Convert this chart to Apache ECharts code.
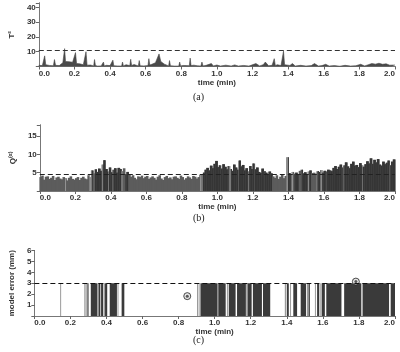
<!DOCTYPE html>
<html>
<head>
<meta charset="utf-8">
<script src="https://cdn.jsdelivr.net/npm/echarts@6/dist/echarts.min.js"></script>
<style>
  html, body { margin: 0; padding: 0; background: #fff; }
  #chart { width: 400px; height: 352px; }
</style>
</head>
<body>
<div id="chart"></div>
<script>
// (a) T^2 statistic: [time (min), value]
const t2Points = [
  [0,0.8],[0.01,1.5],[0.02,0.6],[0.027,1.0],[0.033,7.2],[0.039,1.2],[0.05,2.0],[0.06,0.7],[0.07,1.1],
  [0.082,0.5],[0.088,4.7],[0.094,0.8],[0.105,1.3],[0.115,0.6],[0.125,1.8],[0.135,2.6],[0.14,3.0],
  [0.145,12.1],[0.15,3.4],[0.16,2.8],[0.17,3.2],[0.18,2.5],[0.19,2.9],[0.2,2.2],[0.206,9.4],[0.212,2.0],
  [0.22,1.4],[0.23,1.8],[0.24,0.9],[0.25,1.2],[0.259,0.7],[0.265,10.0],[0.271,0.9],[0.28,0.5],[0.29,1.0],
  [0.3,0.6],[0.308,0.4],[0.313,4.7],[0.318,0.6],[0.33,0.3],[0.34,0.9],[0.35,0.4],[0.358,0.3],[0.363,3.0],
  [0.368,0.4],[0.38,0.8],[0.39,0.3],[0.4,0.6],[0.411,0.4],[0.416,4.3],[0.421,0.5],[0.43,1.0],[0.44,0.4],
  [0.45,0.7],[0.465,0.3],[0.47,3.0],[0.475,0.4],[0.49,1.2],[0.5,0.5],[0.511,0.6],[0.516,4.9],[0.521,0.7],
  [0.535,1.3],[0.545,0.5],[0.559,0.4],[0.564,4.0],[0.569,0.5],[0.58,1.0],[0.59,0.4],[0.6,0.8],[0.613,0.6],
  [0.618,5.3],[0.623,1.0],[0.635,1.5],[0.645,2.2],[0.655,2.6],[0.665,3.0],[0.675,8.5],[0.685,3.4],
  [0.695,2.8],[0.705,1.6],[0.715,0.8],[0.729,0.4],[0.734,4.0],[0.739,0.5],[0.75,0.9],[0.76,0.3],[0.77,0.6],
  [0.786,0.3],[0.791,3.0],[0.796,0.4],[0.81,0.7],[0.82,0.3],[0.83,0.6],[0.845,0.5],[0.85,5.7],[0.855,0.6],
  [0.87,0.9],[0.88,0.3],[0.89,0.5],[0.91,0.3],[0.916,3.0],[0.922,0.4],[0.94,0.8],[0.95,0.3],[0.969,2.0],
  [0.98,0.4],[1.0,1.0],[1.02,0.3],[1.05,0.9],[1.08,0.3],[1.1,1.1],[1.12,0.3],[1.15,0.7],[1.18,0.3],
  [1.219,2.0],[1.24,0.4],[1.26,1.2],[1.272,3.0],[1.29,0.5],[1.31,0.8],[1.316,0.5],[1.322,5.3],[1.328,0.7],
  [1.34,1.2],[1.36,0.6],[1.368,1.0],[1.374,10.4],[1.38,1.2],[1.39,0.4],[1.41,0.7],[1.424,2.0],[1.44,0.3],
  [1.47,0.8],[1.5,0.3],[1.53,0.6],[1.548,2.0],[1.57,0.3],[1.59,0.6],[1.611,1.5],[1.63,0.3],[1.66,0.6],
  [1.69,0.2],[1.72,0.8],[1.75,0.3],[1.78,0.5],[1.807,1.5],[1.83,0.4],[1.85,1.2],[1.87,2.0],[1.89,1.6],
  [1.91,2.2],[1.93,1.5],[1.95,1.8],[1.97,0.9],[1.98,1.5],[2.0,1.0]
];
const t2Limit = 10.8;

// (b) Q statistic, one value per 0.01 min
const qStep = 0.01;
const qValues = [
  // 0.00 - 0.28
  3.8,4.2,3.1,3.9,4.0,3.3,3.6,4.1,3.0,3.7,3.9,3.4,3.2,3.8,3.5,2.9,3.6,4.0,3.3,3.1,3.5,3.8,3.0,3.6,3.9,3.4,3.2,4.3,3.7,
  // 0.29 - 0.49
  5.6,4.8,5.9,5.2,6.1,5.5,7.2,8.4,6.0,5.3,6.4,5.1,5.8,6.2,5.0,6.3,6.0,5.4,6.2,4.6,5.2,
  // 0.50 - 0.91
  4.4,3.9,4.3,3.6,3.2,4.0,3.8,4.2,3.5,3.9,4.1,3.3,3.7,4.0,3.6,3.1,3.9,4.3,3.4,3.0,3.8,
  4.1,3.5,3.7,3.2,3.9,4.0,3.6,3.3,4.2,3.8,3.1,3.5,4.0,3.7,3.3,4.1,3.9,3.4,3.8,4.4,4.6,
  // 0.92 - 1.30
  5.0,5.8,6.3,5.6,6.9,6.2,7.4,8.2,6.5,7.0,6.1,7.3,6.6,5.9,6.8,6.0,5.5,7.2,6.4,5.8,
  8.3,6.7,7.1,5.6,6.2,5.3,6.8,6.0,7.5,5.9,6.4,5.2,4.9,6.1,5.4,5.0,4.6,5.3,4.8,
  // 1.31 - 1.38
  4.0,3.6,4.3,3.3,3.9,4.4,3.5,4.1,
  // 1.39
  9.2,
  // 1.40 - 1.64
  4.9,4.6,5.2,4.7,5.0,4.4,5.5,5.8,4.8,5.1,4.5,5.3,5.6,4.9,5.0,4.7,5.4,5.2,5.7,5.0,5.5,5.3,5.8,5.6,5.4,
  // 1.65 - 1.99
  6.3,6.8,6.0,6.6,7.2,6.4,7.0,7.8,6.7,6.2,7.4,8.0,6.9,7.1,6.5,7.6,7.0,6.6,7.3,8.1,
  7.5,8.9,7.4,8.5,7.8,8.7,7.2,6.9,8.0,7.3,7.7,8.3,7.0,8.0,8.6
];
const qLimit = 4.7;

// (c) flagged spans: [start (min), end (min), 1 = flagged / 0 = thin trace]
const flagSpans = [
  [0.143,0.146,0],[0.277,0.281,0],[0.284,0.288,0],[0.290,0.293,0],[0.295,0.300,1],[0.313,0.350,1],
  [0.353,0.356,0],[0.358,0.366,1],[0.370,0.382,1],[0.386,0.389,0],[0.392,0.404,1],[0.418,0.458,1],
  [0.461,0.464,0],[0.484,0.499,1],[0.902,0.906,0],[0.911,0.915,0],[0.921,1.016,1],[1.020,1.061,1],
  [1.068,1.072,0],[1.078,1.116,1],[1.124,1.173,1],[1.175,1.179,0],[1.182,1.205,1],[1.212,1.262,1],
  [1.268,1.308,1],[1.389,1.396,0],[1.400,1.411,1],[1.418,1.422,0],[1.436,1.457,1],[1.477,1.507,1],
  [1.512,1.515,0],[1.520,1.528,1],[1.556,1.560,0],[1.568,1.579,1],[1.582,1.588,0],[1.593,1.611,1],
  [1.619,1.703,1],[1.718,1.812,1],[1.814,1.818,0],[1.821,1.967,1],[1.976,2.000,1]
];
const errLimit = 3;
const errMarks = [[0.848, 1.82], [1.783, 3.15]];

const xTicks = { min: 0, max: 2, interval: 0.2 };
const darkFill = "#353535";
const midFill = "#5c5c5c";
const traceFill = "#a0a0a0";
const font = "Liberation Sans";

const grids = [
  { left: 20, top: 3, width: 375, height: 63.5 },
  { left: 20, top: 125, width: 375, height: 66 },
  { left: 20, top: 250.5, width: 375, height: 65.5 }
];
const labelStyle = { fontFamily: font, fontSize: 8, fontWeight: "bold", color: "#333" };

function bottomAxis(idx) {
  return {
    type: "value", gridIndex: idx, ...xTicks,
    name: "time (min)", nameLocation: "middle", nameGap: 12,
    nameTextStyle: labelStyle,
    axisLine: { lineStyle: { color: "#555", width: 1 } },
    axisTick: { show: false },
    splitLine: { show: false },
    axisLabel: {
      margin: 3, ...labelStyle,
      alignMinLabel: "left", alignMaxLabel: "right",
      formatter: v => v.toFixed(1)
    }
  };
}
function topAxis(idx) {
  return {
    type: "value", gridIndex: idx, position: "top", ...xTicks,
    axisLine: { lineStyle: { color: "#777" } },
    axisTick: { inside: true, length: 3, lineStyle: { color: "#666" } },
    axisLabel: { show: false }, splitLine: { show: false }
  };
}
function leftAxis(idx, max, interval, name, nameGap) {
  return {
    type: "value", gridIndex: idx, min: 0, max: max, interval: interval,
    name: name, nameLocation: "middle", nameGap: nameGap, nameRotate: 90,
    nameTextStyle: {
      ...labelStyle,
      rich: {
        b: { ...labelStyle, lineHeight: 10 },
        s: { ...labelStyle, fontSize: 5, lineHeight: 10, verticalAlign: "top", padding: [0, 0, 4, 0] }
      }
    },
    axisLine: { show: true, lineStyle: { color: "#555" } },
    axisTick: { show: true, inside: false, length: 2, lineStyle: { color: "#555" } },
    splitLine: { show: false },
    axisLabel: {
      margin: 3, ...labelStyle,
      formatter: v => (v === 0 || v > max - 0.01 && max % interval !== 0 ? "" : String(v))
    }
  };
}
function rightAxis(idx, max, interval) {
  return {
    type: "value", gridIndex: idx, position: "right", min: 0, max: max, interval: interval,
    axisLine: { show: true, lineStyle: { color: "#777" } },
    axisTick: { show: true, inside: true, length: 3, lineStyle: { color: "#666" } },
    axisLabel: { show: false }, splitLine: { show: false }
  };
}
function limitLine(value, color) {
  return {
    silent: true, symbol: "none", label: { show: false },
    lineStyle: { type: [5, 3], color: color, width: 1.2 },
    data: [{ yAxis: value }]
  };
}

// Q bars: grey base, darker where the time is flagged in (c)
function renderQ(params, api) {
  const t0 = api.value(0), t1 = api.value(1), v = api.value(2);
  const a = api.coord([t0, v]), b = api.coord([t1, 0]);
  const children = [{
    type: "rect", shape: { x: a[0] - 0.4, y: a[1], width: b[0] - a[0] + 0.8, height: b[1] - a[1] },
    style: { fill: midFill }
  }];
  flagSpans.forEach(s => {
    const s0 = Math.max(t0, s[0]), s1 = Math.min(t1, s[1]);
    if (s1 > s0) {
      const p = api.coord([s0, v]), q = api.coord([s1, 0]);
      const pad = s[2] ? 0.4 : 0;
      children.push({
        type: "rect",
        shape: { x: p[0] - pad, y: p[1], width: Math.max(q[0] - p[0] + 2 * pad, 0.8), height: q[1] - p[1] },
        style: { fill: s[2] ? darkFill : traceFill }
      });
    }
  });
  return { type: "group", children: children };
}
function renderSpan(params, api) {
  const a = api.coord([api.value(0), errLimit]), b = api.coord([api.value(1), 0]);
  return {
    type: "rect",
    shape: { x: a[0], y: a[1], width: Math.max(b[0] - a[0], 1), height: b[1] - a[1] },
    style: { fill: api.value(2) ? "#3a3a3a" : "#9a9a9a" }
  };
}

const chart = echarts.init(document.getElementById("chart"));
chart.setOption({
  animation: false,
  backgroundColor: "#fff",
  grid: grids,
  xAxis: [bottomAxis(0), topAxis(0), bottomAxis(1), topAxis(1), bottomAxis(2), topAxis(2)],
  yAxis: [
    leftAxis(0, 43, 10, "T²", 8), rightAxis(0, 43, 10),
    leftAxis(1, 18, 5, "{b|Q}{s|(α)}", 9), rightAxis(1, 18, 5),
    leftAxis(2, 6, 1, "model error (mm)", 10), rightAxis(2, 6, 1)
  ],
  graphic: [
    { type: "text", left: 193, top: 92, style: { text: "(a)", font: "10px 'Liberation Serif'", fill: "#222" } },
    { type: "text", left: 193, top: 213, style: { text: "(b)", font: "10px 'Liberation Serif'", fill: "#222" } },
    { type: "text", left: 193, top: 335, style: { text: "(c)", font: "10px 'Liberation Serif'", fill: "#222" } }
  ],
  series: [
    {
      type: "line", xAxisIndex: 0, yAxisIndex: 0, data: t2Points,
      symbol: "none", lineStyle: { color: "#444", width: 0.6 },
      areaStyle: { color: "#4a4a4a", opacity: 1 },
      markLine: limitLine(t2Limit, "#333")
    },
    {
      type: "custom", xAxisIndex: 2, yAxisIndex: 2,
      data: qValues.map((v, i) => [i * qStep, (i + 1) * qStep, v]),
      encode: { x: [0, 1], y: 2 },
      renderItem: renderQ,
      markLine: limitLine(qLimit, "#222")
    },
    {
      type: "custom", xAxisIndex: 4, yAxisIndex: 4,
      data: flagSpans,
      encode: { x: [0, 1], y: 2 },
      renderItem: renderSpan,
      markLine: limitLine(errLimit, "#111")
    },
    {
      type: "scatter", xAxisIndex: 4, yAxisIndex: 4, data: errMarks,
      symbol: "circle", symbolSize: 7,
      itemStyle: { color: "#e0e0e0", borderColor: "#222", borderWidth: 1 }
    },
    {
      type: "scatter", xAxisIndex: 4, yAxisIndex: 4, data: errMarks,
      symbol: "circle", symbolSize: 3, itemStyle: { color: "#333" }
    }
  ]
});
</script>
</body>
</html>
